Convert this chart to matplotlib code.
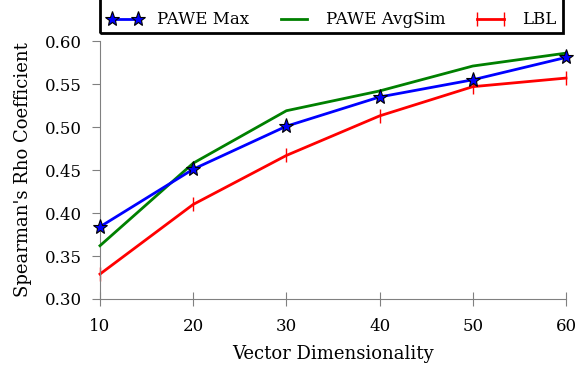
import numpy as np
import matplotlib.pyplot as plt
from matplotlib.patches import Rectangle

plt.rcParams['font.family'] = ['DejaVu Serif']

dims = [10, 20, 30, 40, 50, 60]
pawe_max = [0.384, 0.451, 0.501, 0.535, 0.555, 0.581]
pawe_avgsim = [0.362, 0.458, 0.519, 0.542, 0.571, 0.586]
lbl = [0.329, 0.410, 0.467, 0.513, 0.547, 0.557]
yticks = [0.30, 0.35, 0.40, 0.45, 0.50, 0.55, 0.60]

fig = plt.figure(figsize=(5.76, 3.70), dpi=100)
ax = fig.add_axes([0.1736, 0.1919, 0.809, 0.697])

ax.plot(dims, pawe_max, color='blue', lw=2, marker='*', ms=11,
        mfc='blue', mec='black', mew=0.8, label='PAWE Max', zorder=4, clip_on=False)
ax.plot(dims, pawe_avgsim, color='green', lw=2, label='PAWE AvgSim', zorder=3, clip_on=False)
ax.plot(dims, lbl, color='red', lw=2, marker='|', ms=10, mew=1,
        label='LBL', zorder=2, clip_on=False)

ax.set_xlim(10, 60)
ax.set_ylim(0.30, 0.60)
ax.set_xticks(dims)
ax.set_yticks(yticks)
ax.set_yticklabels(['%.2f' % v for v in yticks])
ax.tick_params(axis='y', labelsize=12, direction='out', color='gray', length=6, pad=7)
ax.tick_params(axis='x', labelsize=12, direction='inout', color='gray', length=10, pad=9)

for s in ['top', 'right']:
    ax.spines[s].set_visible(False)
for s in ['left', 'bottom']:
    ax.spines[s].set_color('gray')

ax.set_xlabel('Vector Dimensionality', fontsize=13, labelpad=7)
ax.set_ylabel("Spearman's Rho Coefficient", fontsize=13, labelpad=9)

# legend box sticks out of the top of the figure
x0, x1 = 100 / 576, 563 / 576
ybot = 1 - 33 / 370
fig.patches.append(Rectangle((x0, ybot), x1 - x0, 0.2, transform=fig.transFigure,
                             fill=False, edgecolor='black', lw=2, clip_on=False))
leg = fig.legend(loc='center', bbox_to_anchor=(x0, ybot, x1 - x0, 2 * 13 / 370),
                 mode='expand', ncol=3, fontsize=12, frameon=False,
                 borderaxespad=0, handlelength=2.2, numpoints=2, columnspacing=2.5)

plt.savefig('out.png', dpi=100)
